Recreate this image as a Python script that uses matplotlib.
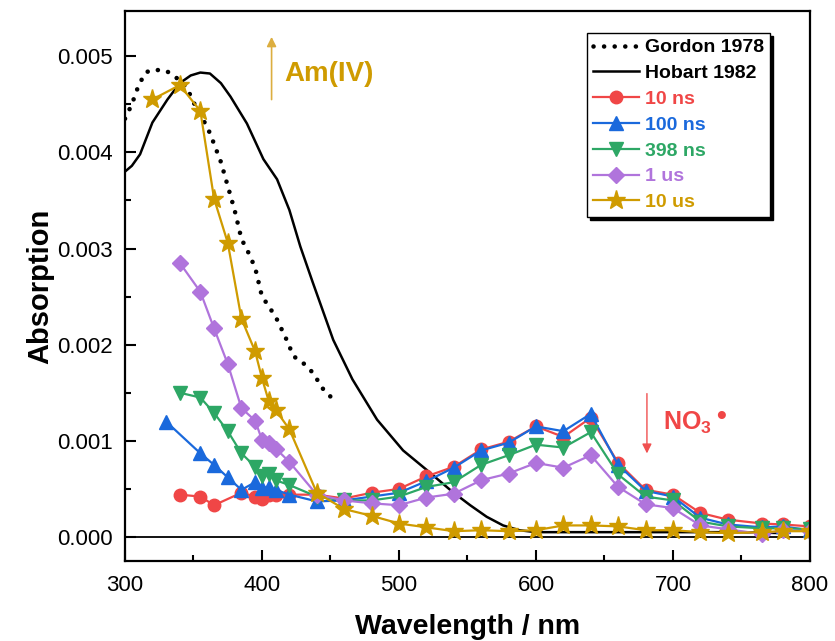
import numpy as np
import matplotlib.pyplot as plt

plt.rcParams['font.family'] = ['Liberation Sans', 'DejaVu Sans']
plt.rcParams['mathtext.fontset'] = 'custom'
plt.rcParams['mathtext.rm'] = 'Liberation Sans:bold'
plt.rcParams['mathtext.bf'] = 'Liberation Sans:bold'

# reference spectra
gordon_wl = [300, 305, 310, 315, 320, 330, 335, 340, 345, 350, 355, 362, 370, 375, 380,
             385, 390, 395, 400, 405, 411, 418, 423, 430, 437, 445, 450]
gordon_abs = [0.00435, 0.0045, 0.0047, 0.00483, 0.00486, 0.00485, 0.0048, 0.00475, 0.00468,
              0.00452, 0.0044, 0.0042, 0.0039, 0.00365, 0.0034, 0.0031, 0.00296, 0.0028,
              0.0025, 0.0024, 0.00226, 0.00205, 0.00188, 0.00181, 0.00171, 0.00153, 0.00146]

hobart_wl = [300, 305, 311, 320, 331, 340, 348, 355, 362, 370, 377, 389, 401, 411, 420, 428,
             437, 452, 466, 484, 503, 520, 539, 552, 564, 576, 588, 600, 650, 700, 750, 780]
hobart_abs = [0.0038, 0.00386, 0.00398, 0.00431, 0.00455, 0.00472, 0.0048, 0.00483, 0.00482,
              0.00472, 0.00458, 0.0043, 0.00393, 0.00372, 0.0034, 0.00302, 0.00265, 0.00205,
              0.00164, 0.00122, 0.0009, 0.0007, 0.00047, 0.00033, 0.00021, 0.00012, 0.00007,
              0.00005, 0.00005, 0.00005, 0.00005, 0.00004]

# transient spectra
wl_10ns = [340, 355, 365, 385, 395, 400, 405, 410, 420, 440, 460, 480, 500, 520, 540, 560,
           580, 600, 620, 640, 660, 680, 700, 720, 740, 765, 780, 800]
abs_10ns = [0.00044, 0.00042, 0.00033, 0.00046, 0.00042, 0.0004, 0.00044, 0.00044, 0.00044,
            0.00044, 0.0004, 0.00046, 0.0005, 0.00063, 0.00073, 0.00091, 0.00099, 0.00115,
            0.00104, 0.00124, 0.00077, 0.00049, 0.00044, 0.00025, 0.00018, 0.00014, 0.00013,
            0.00011]

wl_100ns = [330, 355, 365, 375, 385, 395, 400, 405, 410, 420, 440, 460, 480, 500, 520, 540,
            560, 580, 600, 620, 640, 660, 680, 700, 720, 740, 765, 780, 800]
abs_100ns = [0.0012, 0.00087, 0.00075, 0.00062, 0.00049, 0.00057, 0.00051, 0.00052, 0.00049,
             0.00044, 0.00037, 0.00038, 0.00042, 0.00046, 0.00058, 0.00072, 0.0009, 0.00098,
             0.00115, 0.0011, 0.00128, 0.00075, 0.00048, 0.00042, 0.0002, 0.00013, 0.0001,
             0.00011, 0.00007]

wl_398ns = [340, 355, 365, 375, 385, 395, 400, 405, 410, 420, 440, 460, 480, 500, 520, 540,
            560, 580, 600, 620, 640, 660, 680, 700, 720, 740, 765, 780, 800]
abs_398ns = [0.0015, 0.00145, 0.00129, 0.0011, 0.00087, 0.00073, 0.00063, 0.00065, 0.00059,
             0.00054, 0.00042, 0.00038, 0.00038, 0.00042, 0.00052, 0.00057, 0.00075, 0.00085,
             0.00096, 0.00093, 0.00109, 0.00065, 0.00042, 0.00038, 0.00016, 0.00011, 0.00009,
             0.00009, 0.00008]

wl_1us = [340, 355, 365, 375, 385, 395, 400, 405, 410, 420, 440, 460, 480, 500, 520, 540,
          560, 580, 600, 620, 640, 660, 680, 700, 720, 740, 765, 780, 800]
abs_1us = [0.00285, 0.00255, 0.00217, 0.0018, 0.00134, 0.00121, 0.00101, 0.00098, 0.00092,
           0.00078, 0.00044, 0.00038, 0.00035, 0.00033, 0.00041, 0.00045, 0.00059, 0.00066,
           0.00077, 0.00072, 0.00085, 0.00052, 0.00034, 0.0003, 0.00012, 0.00008, 0.00003,
           0.00007, 0.00006]

wl_10us = [320, 340, 355, 365, 375, 385, 395, 400, 405, 410, 420, 440, 460, 480, 500, 520,
           540, 560, 580, 600, 620, 640, 660, 680, 700, 720, 740, 765, 780, 800]
abs_10us = [0.00455, 0.0047, 0.00443, 0.00352, 0.00306, 0.00227, 0.00193, 0.00165, 0.00141,
            0.00132, 0.00112, 0.00046, 0.00029, 0.00022, 0.00014, 0.0001, 0.00006, 0.00007,
            0.00006, 0.00007, 0.00012, 0.00012, 0.00011, 0.00007, 0.00007, 0.00005, 0.00004,
            0.00005, 0.00006, 0.00006]

red = '#f04646'
blue = '#1a69dc'
green = '#2da765'
purple = '#b074dc'
gold = '#cf9b00'

fig = plt.figure(figsize=(8.35, 6.41), dpi=100)
ax = fig.add_axes([0.1497, 0.1248, 0.8203, 0.858])

ax.axhline(0, color='black', lw=1.3, zorder=1)
ax.plot(gordon_wl, gordon_abs, color='black', ls=(0, (0.01, 2.3)), lw=3.3,
        dash_capstyle='round', label='Gordon 1978')
ax.plot(hobart_wl, hobart_abs, color='black', lw=1.8, label='Hobart 1982')
ax.plot(wl_10ns, abs_10ns, color=red, marker='o', ms=9, lw=1.6, label='10 ns')
ax.plot(wl_100ns, abs_100ns, color=blue, marker='^', ms=10, lw=1.6, label='100 ns')
ax.plot(wl_398ns, abs_398ns, color=green, marker='v', ms=10, lw=1.6, label='398 ns')
ax.plot(wl_1us, abs_1us, color=purple, marker='D', ms=8, lw=1.6, label='1 us')
ax.plot(wl_10us, abs_10us, color=gold, marker='*', ms=14, lw=1.6, label='10 us')

# annotations
ax.annotate('', xy=(407, 0.00523), xytext=(407, 0.00452),
            arrowprops=dict(arrowstyle='-|>', color='#dcae40', lw=1.2, mutation_scale=14))
ax.text(416.5, 0.00474, 'Am(IV)', color=gold, fontsize=20, fontweight='bold', va='baseline')
ax.annotate('', xy=(681, 0.00084), xytext=(681, 0.00152),
            arrowprops=dict(arrowstyle='-|>', color='#f05050', lw=1.0, mutation_scale=14))
ax.text(692.5, 0.00111, r'NO$_3$', color=red, fontsize=18, fontweight='bold', va='baseline')
ax.text(735, 0.00118, '\u2022', color=red, fontsize=20, fontweight='bold', va='baseline',
        ha='center')

ax.set_xlim(300, 800)
ax.set_ylim(-0.00025, 0.00547)
ax.set_xticks(np.arange(300, 801, 100))
ax.set_xticks(np.arange(350, 800, 100), minor=True)
ax.set_yticks(np.arange(0, 0.0051, 0.001))
ax.set_yticks(np.arange(0.0005, 0.0055, 0.001), minor=True)
ax.yaxis.set_major_formatter(plt.FormatStrFormatter('%.3f'))
ax.tick_params(which='both', direction='in', labelsize=16, width=1.5)
ax.tick_params(which='major', length=8)
ax.tick_params(which='minor', length=4)
ax.tick_params(axis='x', pad=10)
ax.tick_params(axis='y', pad=9)
for s in ax.spines.values():
    s.set_linewidth(1.6)

ax.set_xlabel('Wavelength / nm', fontsize=20.5, fontweight='bold', labelpad=13)
ax.set_ylabel('Absorption', fontsize=21, fontweight='bold', labelpad=2)

leg = ax.legend(loc='upper right', bbox_to_anchor=(0.942, 0.96), fontsize=14,
                frameon=True, fancybox=False, shadow={'color': 'black', 'alpha': 1},
                edgecolor='black', handlelength=2.4, labelspacing=0.42,
                borderpad=0.3, handletextpad=0.3, borderaxespad=0)
leg.get_frame().set_linewidth(1.0)
for txt, line in zip(leg.get_texts(), leg.get_lines()):
    txt.set_color(line.get_color())
    txt.set_fontweight('bold')

fig.savefig('out.png', dpi=100)
